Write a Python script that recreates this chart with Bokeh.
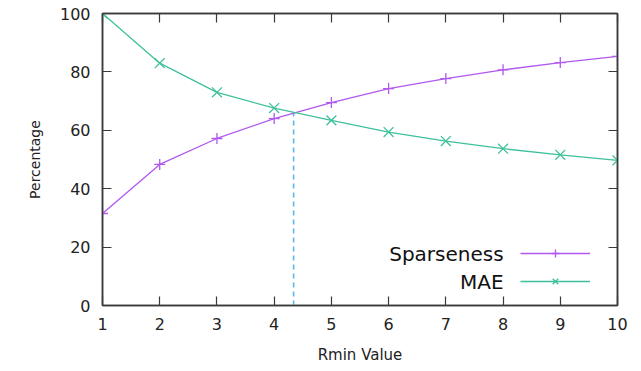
from bokeh.plotting import figure
from bokeh.models import (LinearAxis, Legend, LegendItem, Label, Range1d,
                          FixedTicker)
from bokeh.embed import file_html
from bokeh.resources import INLINE

# Data
rmin = [1, 2, 3, 4, 5, 6, 7, 8, 9, 10]
sparseness = [31.5, 48.3, 57.2, 64.0, 69.5, 74.3, 77.7, 80.7, 83.2, 85.3]
mae = [100.0, 83.0, 73.0, 67.6, 63.4, 59.4, 56.3, 53.7, 51.6, 49.7]
crossing_x = 4.34
crossing_y = 66.0
x_ticks = [1, 2, 3, 4, 5, 6, 7, 8, 9, 10]
y_ticks = [0, 20, 40, 60, 80, 100]
series_names = ["Sparseness", "MAE"]

PURPLE = "#B058F0"
GREEN = "#3FC09C"
BLUE = "#5AB8EC"
FRAME = "#3a3a3a"
TICK_FONT = "DejaVu Sans"

p = figure(width=641, height=371, output_backend="svg", toolbar_location=None,
           x_range=Range1d(1, 10), y_range=Range1d(0, 100),
           x_axis_location=None, y_axis_location=None,
           min_border_left=102, min_border_right=24,
           min_border_top=13, min_border_bottom=66)
p.xgrid.grid_line_color = None
p.ygrid.grid_line_color = None
p.outline_line_color = FRAME
p.outline_line_width = 1.5
p.background_fill_color = "white"
p.border_fill_color = "white"


def style_axis(ax, show_labels, ticks):
    ax.axis_line_color = FRAME
    ax.axis_line_width = 1.5
    ax.major_tick_in = 9
    ax.major_tick_out = 0
    ax.minor_tick_line_color = None
    ax.major_tick_line_color = FRAME
    ax.major_tick_line_width = 1.2
    if show_labels:
        ax.major_label_text_font = TICK_FONT
        ax.major_label_text_font_size = "16px"
        ax.major_label_text_color = "#222222"
    else:
        ax.major_label_overrides = {t: "" for t in ticks}
        ax.major_label_standoff = 0


xb = LinearAxis(ticker=FixedTicker(ticks=x_ticks), axis_label="Rmin Value")
style_axis(xb, True, x_ticks)
xb.major_label_standoff = 12
xb.axis_label_text_font = TICK_FONT
xb.axis_label_text_font_size = "15px"
xb.axis_label_text_font_style = "normal"
xb.axis_label_text_color = "#222222"
xb.axis_label_standoff = 13
p.add_layout(xb, "below")

yl = LinearAxis(ticker=FixedTicker(ticks=y_ticks), axis_label="Percentage")
style_axis(yl, True, y_ticks)
yl.major_label_standoff = 12
yl.axis_label_text_font = TICK_FONT
yl.axis_label_text_font_size = "14px"
yl.axis_label_text_font_style = "normal"
yl.axis_label_text_color = "#222222"
yl.axis_label_standoff = 14
p.add_layout(yl, "left")

xt = LinearAxis(ticker=FixedTicker(ticks=x_ticks))
style_axis(xt, False, x_ticks)
p.add_layout(xt, "above")

yr = LinearAxis(ticker=FixedTicker(ticks=y_ticks))
style_axis(yr, False, y_ticks)
p.add_layout(yr, "right")

# Dashed crossing marker
p.segment(x0=[crossing_x], y0=[0], x1=[crossing_x], y1=[crossing_y],
          line_color=BLUE, line_width=1.6, line_dash="5 4")

sl = p.line(rmin, sparseness, line_color=PURPLE, line_width=1.3)
ss = p.scatter(rmin, sparseness, marker="cross", size=11, line_color=PURPLE,
               line_width=1.3)
ml = p.line(rmin, mae, line_color=GREEN, line_width=1.3)
ms = p.scatter(rmin, mae, marker="x", size=14, line_color=GREEN, line_width=1.3)

legend = Legend(items=[LegendItem(label="", renderers=[sl, ss]),
                       LegendItem(label="", renderers=[ml, ms])],
                location=(418, 14), orientation="vertical",
                glyph_width=70, glyph_height=20, label_width=0,
                label_height=20, label_standoff=0, spacing=8, padding=0,
                margin=0, label_text_font_size="10px",
                border_line_alpha=0, background_fill_alpha=0)
p.add_layout(legend, "center")

for txt, yv in zip(series_names, [17.8, 8.2]):
    p.add_layout(Label(x=8.01, y=yv, text=txt, text_align="right",
                       text_baseline="middle", text_font=TICK_FONT,
                       text_font_size="20px", text_color="#111111"))

open("out.html", "w").write(file_html(p, INLINE))
